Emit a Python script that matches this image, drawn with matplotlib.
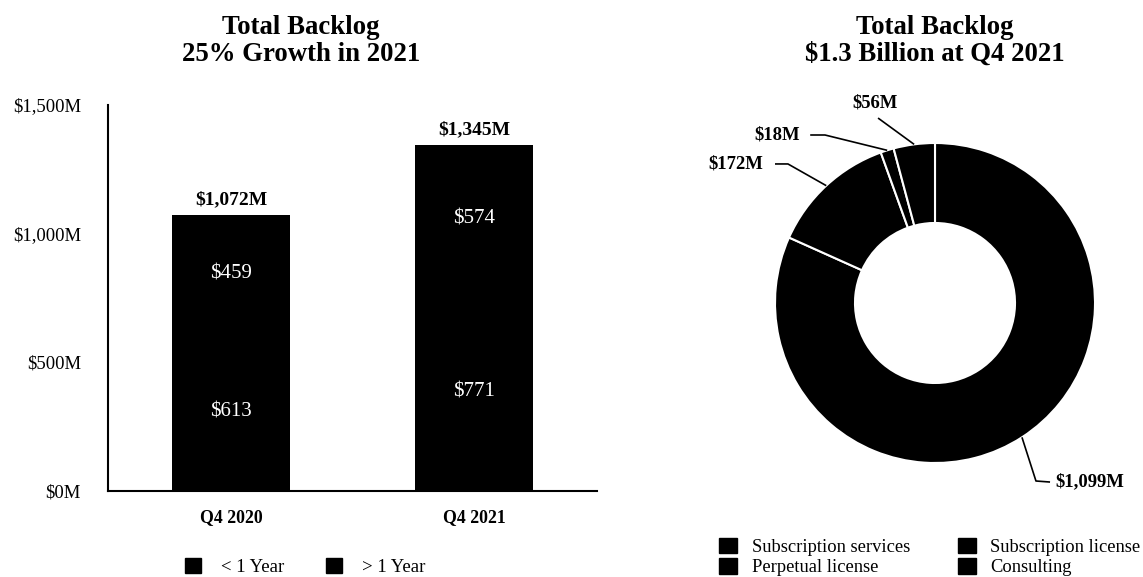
import numpy as np
import matplotlib
matplotlib.use("Agg")
import matplotlib.pyplot as plt
from matplotlib.patches import Patch

plt.rcParams['font.family'] = ['Liberation Serif', 'DejaVu Serif']

# ---- data ----
quarters = ["Q4 2020", "Q4 2021"]
under_1yr = [613, 771]
over_1yr = [459, 574]
totals = [1072, 1345]
yticks = [0, 500, 1000, 1500]
ytick_labels = ["$0M", "$500M", "$1,000M", "$1,500M"]

donut_cats = ["Subscription services", "Subscription license", "Perpetual license", "Consulting"]
donut_vals = [1099, 172, 18, 56]
donut_labels = ["$1,099M", "$172M", "$18M", "$56M"]

W, H = 1143, 577
fig = plt.figure(figsize=(W / 100, H / 100), dpi=100)

def fx(px):
    return px / W

def fy(py):
    return 1 - py / H

# ---- bar chart ----
ax = fig.add_axes([fx(108), fy(491), fx(597) - fx(108), fy(105) - fy(491)])
x = np.arange(len(quarters))
ax.bar(x, under_1yr, width=0.486, color="black")
ax.bar(x, over_1yr, bottom=under_1yr, width=0.486, color="black")
ax.set_xlim(-0.506, 1.506)
ax.set_ylim(0, 1500)
ax.set_yticks(yticks)
ax.set_yticklabels(ytick_labels, fontsize=13.5)
ax.set_xticks(x)
ax.set_xticklabels(quarters, fontsize=12.8, fontweight="bold")
ax.tick_params(axis="y", length=0, pad=19.5)
ax.tick_params(axis="x", length=0, pad=13)
for s in ["top", "right"]:
    ax.spines[s].set_visible(False)
for s in ["left", "bottom"]:
    ax.spines[s].set_linewidth(1.5)
    ax.spines[s].set_color("black")

for i in range(len(quarters)):
    ax.text(x[i], under_1yr[i] / 2, f"${under_1yr[i]}", ha="center", va="center",
            color="white", fontsize=15)
    ax.text(x[i], under_1yr[i] + over_1yr[i] / 2, f"${over_1yr[i]}", ha="center",
            va="center", color="white", fontsize=15)
    ax.text(x[i], totals[i] + 25, f"${totals[i]:,}M", ha="center", va="bottom",
            fontsize=14, fontweight="bold")

fig.text(fx(301), fy(41), "Total Backlog\n25% Growth in 2021", ha="center", va="center",
         fontsize=19.3, fontweight="bold", linespacing=1.1)

fig.legend([Patch(color="black"), Patch(color="black")], ["< 1 Year", "> 1 Year"],
           loc="center", bbox_to_anchor=(fx(305), fy(567)), ncol=2, frameon=False,
           fontsize=13.5, handlelength=0.9, handleheight=0.9, columnspacing=2.2,
           handletextpad=1.05, borderpad=0, borderaxespad=0)

# ---- donut ----
R = 160
cx, cy = 935, 303
half = 1.4 * R
ax2 = fig.add_axes([fx(cx - half), fy(cy + half), 2 * half / W, 2 * half / H])
wedges, _ = ax2.pie(donut_vals, startangle=90, counterclock=False, colors=["black"] * 4,
                    radius=1, wedgeprops=dict(width=0.5, edgecolor="white", linewidth=1.5))
ax2.set_xlim(-1.4, 1.4)
ax2.set_ylim(-1.4, 1.4)
ax2.set_aspect("equal")
ax2.axis("off")

# label layout: text position, elbow points (data units of radius)
layout = {
    "$1,099M": dict(text=(0.75, -1.12), ha="left",
                    elbow=[(0.719, -1.119), (0.631, -1.1125)]),
    "$172M": dict(text=(-1.075, 0.869), ha="right",
                  elbow=[(-1.0, 0.869), (-0.919, 0.869)]),
    "$18M": dict(text=(-0.844, 1.05), ha="right",
                 elbow=[(-0.78, 1.05), (-0.6875, 1.05)]),
    "$56M": dict(text=(-0.375, 1.25), ha="center", elbow=[(-0.356, 1.156)]),
}
for w, lab in zip(wedges, donut_labels):
    ang = np.deg2rad((w.theta1 + w.theta2) / 2)
    px, py = np.cos(ang) * 1.0, np.sin(ang) * 1.0
    L = layout[lab]
    pts = L["elbow"] + [(px, py)]
    ax2.plot([p[0] for p in pts], [p[1] for p in pts], color="black", lw=1.2,
             solid_capstyle="butt")
    ax2.text(L["text"][0], L["text"][1], lab, ha=L["ha"], va="center",
             fontsize=13.4, fontweight="bold")

fig.text(fx(935), fy(41), "Total Backlog\n$1.3 Billion at Q4 2021", ha="center",
         va="center", fontsize=19.3, fontweight="bold", linespacing=1.1)

order = [0, 2, 1, 3]
fig.legend([Patch(color="black") for _ in order],
           [donut_cats[k] for k in order],
           loc="center", bbox_to_anchor=(fx(930), fy(557)), ncol=2, frameon=False,
           fontsize=13.3, handlelength=0.95, handleheight=0.9, columnspacing=2.6,
           handletextpad=0.8, labelspacing=0.15, borderpad=0, borderaxespad=0)

fig.savefig("out.png", dpi=100, facecolor="white")
